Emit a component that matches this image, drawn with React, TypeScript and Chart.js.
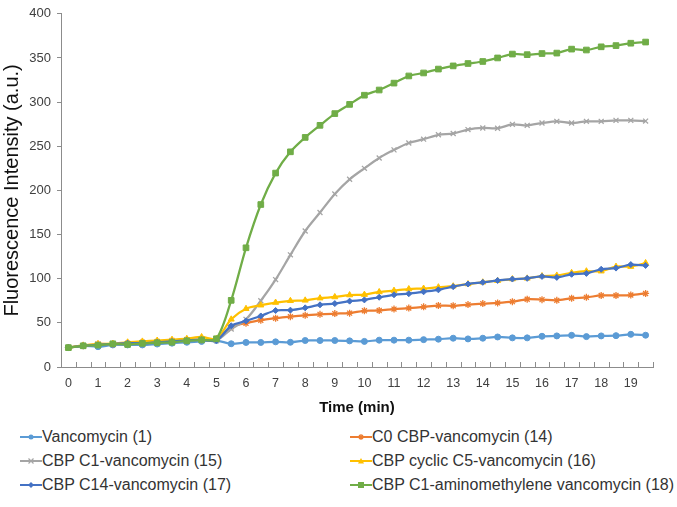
import React, { useEffect, useRef } from "react";
import { Chart, registerables } from "chart.js";
Chart.register(...registerables);

const FONT = "'Liberation Sans', Arial, sans-serif";

// Time points (min), one every 30 s
const times = [
  0, 0.5, 1, 1.5, 2, 2.5, 3, 3.5, 4, 4.5, 5, 5.5, 6, 6.5, 7, 7.5, 8, 8.5, 9, 9.5,
  10, 10.5, 11, 11.5, 12, 12.5, 13, 13.5, 14, 14.5, 15, 15.5, 16, 16.5, 17, 17.5, 18, 18.5, 19, 19.5,
];

const yTicks = [0, 50, 100, 150, 200, 250, 300, 350, 400];

const vancomycin1 = [
  22, 24, 23, 25, 25, 25, 26, 27, 28, 29, 30, 26.3, 27.8, 27.8, 28.5, 28, 30, 30, 30, 29.6,
  29, 30.4, 30.4, 30.4, 31, 31.5, 32.6, 31.8, 32.6, 34, 33, 33, 34.8, 35.2, 35.9, 34.4, 35.2, 35.5, 37, 36,
];
const c0Cbp14 = [
  22, 24, 26, 26, 27, 28, 29, 30, 31, 31, 31, 45.5, 49.6, 53, 55.2, 57, 58.5, 59.6, 60.5, 61,
  63.7, 64, 65.6, 66.7, 68.1, 69.6, 69.3, 70.7, 71.8, 72.6, 74, 76.7, 76.3, 75.5, 77.8, 78.9, 81, 81, 81.5, 83.3,
];
const cbpC1_15 = [
  22, 24, 25, 26, 26, 27, 28, 29, 30, 31, 30, 43, 54, 75, 99, 127, 154, 175, 196, 212.6,
  225, 236.7, 245.9, 253.7, 258, 263, 264.4, 268.9, 270.7, 270.4, 274.8, 273.7, 276.3, 278.2, 276.3, 278.2, 278.2, 279.3, 279.3, 278.5,
];
const cbpCyclicC5_16 = [
  22, 24.5, 26, 26.5, 28, 29, 30, 31, 32, 34, 32, 54, 66, 70, 73, 75, 75.5, 78, 79.3, 81.5,
  82, 85, 86.5, 88.3, 88.9, 90.4, 91.5, 94, 96, 97.8, 99.6, 100.4, 103, 103.7, 106.7, 108.5, 108.5, 113.7, 113.7, 117.8,
];
const cbpC14_17 = [
  22, 24, 25, 26, 27, 27, 28, 29, 30, 31, 30, 46.7, 52.2, 57.8, 64, 64.4, 67, 70.4, 71.8, 74.6,
  76, 79, 81.8, 83, 85.2, 87.4, 91, 94, 95.9, 98, 99.6, 100.4, 102.6, 101.5, 105, 106, 110.7, 112, 116, 115,
];
const cbpC1Amino18 = [
  21.9, 24, 24.8, 26.3, 25.5, 26.7, 27.4, 28, 29.6, 30.7, 32, 75.5, 135, 184, 219.6, 243.7, 260, 273.7, 287, 297.4,
  307.8, 313.7, 321.5, 329.6, 333, 337.4, 341, 343.7, 346, 350, 354.4, 353.7, 355, 355.5, 360, 359, 362.6, 364, 366.7, 368,
];

const seriesNames = [
  "Vancomycin (1)",
  "C0 CBP-vancomycin (14)",
  "CBP C1-vancomycin (15)",
  "CBP cyclic C5-vancomycin (16)",
  "CBP C14-vancomycin (17)",
  "CBP C1-aminomethylene vancomycin (18)",
];
const seriesData = [vancomycin1, c0Cbp14, cbpC1_15, cbpCyclicC5_16, cbpC14_17, cbpC1Amino18];
const seriesColors = ["#5B9BD5", "#ED7D31", "#A5A5A5", "#FFC000", "#4472C4", "#70AD47"];
const seriesMarkers = ["circle", "star", "crossRot", "triangle", "rectRot", "rect"];
const markerRadius = [3, 3.5, 3.5, 3.5, 3, 4];

const innerTicks = {
  id: "innerTicks",
  afterDraw(chart: any) {
    const xs = chart.scales.x;
    const ctx = chart.ctx;
    const n = times.length;
    ctx.save();
    ctx.strokeStyle = "#8c8c8c";
    ctx.lineWidth = 1;
    ctx.beginPath();
    for (let i = 0; i <= n; i++) {
      const x = Math.round(xs.left + ((xs.right - xs.left) * i) / n) + 0.5;
      ctx.moveTo(x, xs.top);
      ctx.lineTo(x, xs.top - 5);
    }
    ctx.stroke();
    ctx.restore();
  },
};

function Marker({ kind, color }: { kind: string; color: string }) {
  const cx = 11, cy = 6;
  let m: any = null;
  if (kind === "circle") m = <circle cx={cx} cy={cy} r={2.5} fill={color} />;
  else if (kind === "rect") m = <rect x={cx - 3} y={cy - 3} width={6} height={6} fill={color} />;
  else if (kind === "rectRot") m = <polygon points={`${cx},${cy - 3} ${cx + 3},${cy} ${cx},${cy + 3} ${cx - 3},${cy}`} fill={color} />;
  else if (kind === "triangle") m = <polygon points={`${cx},${cy - 3} ${cx + 3},${cy + 2.5} ${cx - 3},${cy + 2.5}`} fill={color} />;
  else if (kind === "crossRot")
    m = <path d={`M${cx - 2.5} ${cy - 2.5}L${cx + 2.5} ${cy + 2.5}M${cx + 2.5} ${cy - 2.5}L${cx - 2.5} ${cy + 2.5}`} stroke={color} strokeWidth={1.2} />;
  else
    m = <path d={`M${cx - 3} ${cy}L${cx + 3} ${cy}M${cx} ${cy - 3}L${cx} ${cy + 3}M${cx - 2} ${cy - 2}L${cx + 2} ${cy + 2}M${cx + 2} ${cy - 2}L${cx - 2} ${cy + 2}`} stroke={color} strokeWidth={1.2} />;
  return (
    <svg width={22} height={12} style={{ display: "block" }}>
      <line x1={0} y1={cy} x2={22} y2={cy} stroke={color} strokeWidth={2} />
      {m}
    </svg>
  );
}

export default function App() {
  const canvasRef = useRef<HTMLCanvasElement | null>(null);

  useEffect(() => {
    document.body.style.margin = "0";
    const canvas = canvasRef.current;
    if (!canvas) return;
    const chart = new Chart(canvas, {
      type: "line",
      data: {
        labels: times.map(String),
        datasets: seriesData.map((d, i) => ({
          label: seriesNames[i],
          data: d,
          borderColor: seriesColors[i],
          backgroundColor: seriesColors[i],
          borderWidth: 2.25,
          pointStyle: seriesMarkers[i] as any,
          pointRadius: markerRadius[i],
          pointBorderWidth: seriesMarkers[i] === "star" || seriesMarkers[i] === "crossRot" ? 1.3 : 1,
          pointBorderColor: seriesColors[i],
          pointBackgroundColor: seriesColors[i],
          tension: 0.3,
          fill: false,
          order: seriesData.length - i,
        })),
      },
      options: {
        animation: false,
        responsive: true,
        maintainAspectRatio: false,
        layout: { padding: { top: 7, right: 24, left: 0, bottom: 0 } },
        plugins: { legend: { display: false }, tooltip: { enabled: false } },
        scales: {
          x: {
            type: "category",
            offset: true,
            grid: { display: false, offset: true },
            border: { display: true, color: "#8c8c8c", width: 1 },
            ticks: {
              autoSkip: false,
              maxRotation: 0,
              minRotation: 0,
              padding: 1,
              color: "#404040",
              font: { size: 12.5, family: FONT },
              callback: (_v: any, i: number) => (times[i] % 1 === 0 ? String(times[i]) : ""),
            },
            title: {
              display: true,
              text: "Time (min)",
              color: "#111",
              font: { size: 15, weight: "bold", family: FONT },
              padding: { top: 6, bottom: 3 },
            },
            afterFit: (s: any) => {
              s.height = 53;
            },
          },
          y: {
            min: 0,
            max: 400,
            afterBuildTicks: (s: any) => {
              s.ticks = yTicks.map((v) => ({ value: v }));
            },
            grid: { display: true, drawOnChartArea: false, drawTicks: true, tickLength: 4, tickColor: "#8c8c8c" },
            border: { display: true, color: "#8c8c8c", width: 1 },
            ticks: { padding: 6, color: "#404040", font: { size: 13, family: FONT } },
            title: {
              display: true,
              text: "Fluorescence Intensity (a.u.)",
              color: "#111",
              font: { size: 20, family: FONT },
              padding: { top: 0, bottom: 0 },
            },
            afterFit: (s: any) => {
              s.width = 61;
            },
          },
        },
      } as any,
      plugins: [innerTicks],
    });
    return () => chart.destroy();
  }, []);

  const colX = [20, 350];
  const rowY = [428, 452, 476];

  return (
    <div style={{ position: "relative", width: 677, height: 507, fontFamily: FONT, background: "#fff" }}>
      <div style={{ position: "absolute", left: 0, top: 0, width: 677, height: 420 }}>
        <canvas ref={canvasRef} />
      </div>
      {seriesNames.map((name, i) => (
        <div
          key={name}
          style={{
            position: "absolute",
            left: colX[i % 2],
            top: rowY[Math.floor(i / 2)],
            height: 18,
            display: "flex",
            alignItems: "center",
            fontSize: 16,
            color: "#333",
            whiteSpace: "nowrap",
          }}
        >
          <Marker kind={seriesMarkers[i]} color={seriesColors[i]} />
          <span>{name}</span>
        </div>
      ))}
    </div>
  );
}
